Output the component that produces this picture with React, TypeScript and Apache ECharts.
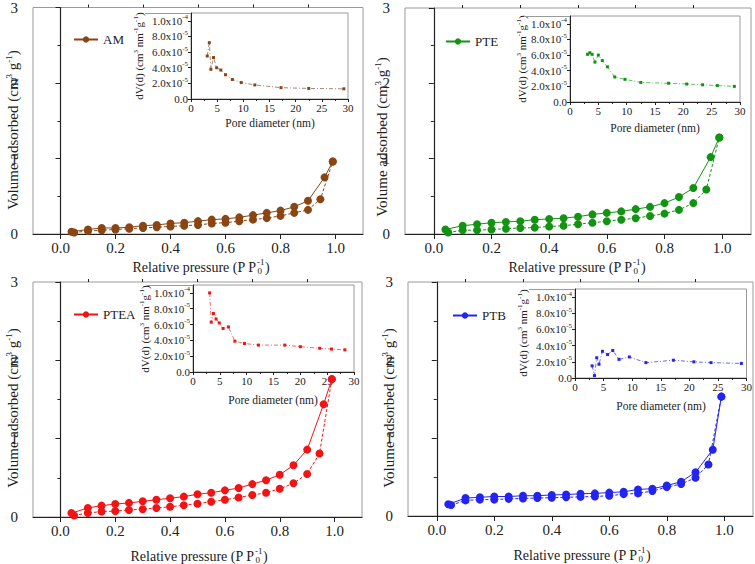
import React, { useEffect, useRef } from "react";
import * as echarts from "echarts";

const FONT = "'Liberation Serif', 'Times New Roman', serif";

// Relative pressure P/P0 for the adsorption (rising) and desorption (falling) branches
const adsP = [0.05, 0.1, 0.15, 0.2, 0.25, 0.3, 0.35, 0.4, 0.45, 0.5, 0.55, 0.6, 0.65, 0.7, 0.75, 0.8, 0.85, 0.9, 0.945, 0.99];
const desP = [0.99, 0.96, 0.9, 0.85, 0.8, 0.75, 0.7, 0.65, 0.6, 0.55, 0.5, 0.45, 0.4, 0.35, 0.3, 0.25, 0.2, 0.15, 0.1, 0.04];

// Volume adsorbed (cm3 g-1)
const amAds = [0.02, 0.04, 0.05, 0.06, 0.07, 0.08, 0.09, 0.10, 0.11, 0.12, 0.14, 0.15, 0.17, 0.19, 0.21, 0.24, 0.28, 0.32, 0.46, 0.96];
const amDes = [0.96, 0.75, 0.44, 0.36, 0.31, 0.28, 0.25, 0.22, 0.20, 0.19, 0.17, 0.15, 0.14, 0.12, 0.11, 0.09, 0.08, 0.08, 0.06, 0.03];
const pteAds = [0.02, 0.05, 0.05, 0.06, 0.07, 0.08, 0.085, 0.10, 0.11, 0.13, 0.15, 0.17, 0.19, 0.21, 0.24, 0.27, 0.32, 0.41, 0.59, 1.28];
const pteDes = [1.28, 1.02, 0.61, 0.49, 0.41, 0.36, 0.33, 0.30, 0.28, 0.26, 0.23, 0.21, 0.20, 0.19, 0.17, 0.16, 0.15, 0.13, 0.11, 0.06];
const pteaAds = [0.02, 0.05, 0.07, 0.075, 0.09, 0.10, 0.115, 0.13, 0.15, 0.17, 0.195, 0.22, 0.25, 0.28, 0.31, 0.36, 0.43, 0.55, 0.81, 1.76];
const pteaDes = [1.76, 1.44, 0.86, 0.66, 0.54, 0.47, 0.42, 0.37, 0.34, 0.31, 0.29, 0.26, 0.24, 0.22, 0.20, 0.18, 0.165, 0.145, 0.115, 0.05];
const ptbAds = [0.14, 0.20, 0.21, 0.21, 0.22, 0.225, 0.23, 0.235, 0.24, 0.245, 0.25, 0.26, 0.28, 0.29, 0.32, 0.37, 0.41, 0.49, 0.66, 1.53];
const ptbDes = [1.53, 0.85, 0.56, 0.44, 0.39, 0.35, 0.34, 0.31, 0.30, 0.29, 0.285, 0.275, 0.27, 0.26, 0.26, 0.25, 0.25, 0.24, 0.23, 0.15];

// Pore size distribution: pore diameter (nm) and dV(d) (cm3 nm-1 g-1)
const amD = [3.1, 3.5, 3.8, 4.3, 4.9, 5.7, 6.6, 7.9, 9.6, 12.2, 17.2, 22.5, 29.2];
const amDv = [5.5e-5, 7.2e-5, 3.8e-5, 5.3e-5, 4.0e-5, 3.7e-5, 3.1e-5, 2.5e-5, 2.1e-5, 1.8e-5, 1.45e-5, 1.35e-5, 1.3e-5];
const pteD = [3.1, 3.5, 3.9, 4.4, 5.0, 5.7, 6.6, 7.9, 9.7, 12.5, 17.4, 20.6, 23.4, 26.0, 29.0];
const pteDv = [6.1e-5, 6.3e-5, 6.1e-5, 5.1e-5, 6.0e-5, 5.3e-5, 4.5e-5, 3.2e-5, 2.9e-5, 2.5e-5, 2.4e-5, 2.3e-5, 2.2e-5, 2.1e-5, 2.0e-5];
const pteaD = [3.1, 3.4, 3.8, 4.3, 4.9, 5.6, 6.6, 7.8, 9.6, 12.2, 17.1, 20.0, 23.6, 25.8, 28.3];
const pteaDv = [10.0e-5, 6.3e-5, 7.4e-5, 6.7e-5, 6.2e-5, 5.5e-5, 5.7e-5, 3.9e-5, 3.6e-5, 3.4e-5, 3.4e-5, 3.2e-5, 3.0e-5, 2.9e-5, 2.8e-5];
const ptbD = [3.0, 3.4, 3.8, 4.2, 4.8, 5.7, 6.6, 7.7, 9.5, 12.4, 17.2, 20.8, 23.8, 29.1];
const ptbDv = [1.5e-5, 0.3e-5, 2.5e-5, 1.7e-5, 3.3e-5, 2.9e-5, 3.4e-5, 2.3e-5, 2.6e-5, 1.9e-5, 2.2e-5, 2.0e-5, 1.9e-5, 1.8e-5];

// Axis ticks
const pTicks = [0, 0.2, 0.4, 0.6, 0.8, 1.0];
const pMinorTicks = [0.1, 0.3, 0.5, 0.7, 0.9];
const dvTicks = [0, 2e-5, 4e-5, 6e-5, 8e-5, 1e-4];

const samples = [
  { name: "AM", color: "#8a4513", insetLine: "#9a8a80", ads: amAds, des: amDes, d: amD, dv: amDv },
  { name: "PTE", color: "#129412", insetLine: "#5cbf5c", ads: pteAds, des: pteDes, d: pteD, dv: pteDv },
  { name: "PTEA", color: "#f21414", insetLine: "#f56a6a", ads: pteaAds, des: pteaDes, d: pteaD, dv: pteaDv },
  { name: "PTB", color: "#2424f0", insetLine: "#6a6af5", ads: ptbAds, des: ptbDes, d: ptbD, dv: ptbDv },
];

// Panel geometry (px)
const mainBoxes = [
  { left: 33, top: 5, width: 330, height: 229 },
  { left: 405, top: 8, width: 346, height: 226 },
  { left: 33, top: 282, width: 329, height: 235 },
  { left: 408, top: 282, width: 345, height: 234 },
];
const insetBoxes = [
  { left: 191, top: 13, width: 157, height: 86 },
  { left: 570, top: 16, width: 170, height: 86 },
  { left: 193, top: 285, width: 161, height: 87 },
  { left: 575, top: 289, width: 172, height: 89 },
];
const legendPos = [
  { left: 68, top: 28 },
  { left: 440, top: 30 },
  { left: 68, top: 303 },
  { left: 447, top: 304 },
];
// x-title start, y-title centre
const xTitlePos = [
  { x: 132, y: 267 },
  { x: 508, y: 267 },
  { x: 130, y: 556 },
  { x: 513, y: 555 },
];
const yTitlePos = [
  { x: 13, y: 130 },
  { x: 382, y: 137 },
  { x: 13, y: 408 },
  { x: 389, y: 408 },
];
const insetXTitle = [
  { x: 270, y: 123 },
  { x: 655, y: 128 },
  { x: 273, y: 400 },
  { x: 661, y: 406 },
];
const insetYTitle = [
  { x: 139, y: 56 },
  { x: 522, y: 59 },
  { x: 145, y: 329 },
  { x: 523, y: 333 },
];

const INK = "#222";
const FRAME = "#9a9a9a";

const tok = (size: number, extra: any = {}) => ({ fontFamily: FONT, fontSize: size, color: INK, fill: INK, ...extra });

function dvLabel(v: number) {
  const k = Math.round(v * 1e5);
  if (k === 0) return "{b|0.0}";
  if (k === 10) return "{b|1.0x10}{s|-4}";
  return `{b|${k}.0x10}{s|-5}`;
}

const dvRich = { b: tok(11), s: tok(7, { padding: [0, 0, 7, 0] }) };

function buildOption() {
  const grid: any[] = [];
  const xAxis: any[] = [];
  const yAxis: any[] = [];
  const series: any[] = [];
  const legend: any[] = [];
  const graphic: any[] = [];

  samples.forEach((s, i) => {
    grid.push({ ...mainBoxes[i], show: true, borderColor: FRAME, borderWidth: 1, containLabel: false });
    grid.push({ ...insetBoxes[i], show: true, borderColor: FRAME, borderWidth: 1, containLabel: false });
  });

  samples.forEach((s, i) => {
    const ins = insetBoxes[i];
    const gm = i * 2;
    const gi = i * 2 + 1;
    // isotherm axes
    xAxis.push({
      type: "value", gridIndex: gm, min: -0.1, max: 1.1,
      axisLine: { show: true, lineStyle: { color: INK, width: 1.2 } },
      axisTick: { show: true, length: 5, customValues: pTicks, lineStyle: { color: INK } },
      axisLabel: {
        show: true, customValues: pTicks, margin: 6,
        formatter: (v: number) => v.toFixed(1),
        fontFamily: FONT, fontSize: 15, color: INK,
      },
      splitLine: { show: false },
    });
    // pore size axes
    xAxis.push({
      type: "value", gridIndex: gi, min: 0, max: 30, interval: 5,
      axisLine: { show: true, lineStyle: { color: INK, width: 1 } },
      axisTick: { show: true, length: 3, lineStyle: { color: INK } },
      minorTick: { show: true, splitNumber: 2, length: 2, lineStyle: { color: INK } },
      axisLabel: { show: true, margin: 3, fontFamily: FONT, fontSize: 11, color: INK },
      splitLine: { show: false },
    });
    yAxis.push({
      type: "value", gridIndex: gm, min: 0, max: 3, interval: 1,
      axisLine: { show: true, lineStyle: { color: INK, width: 1.2 } },
      axisTick: { show: true, length: 5, lineStyle: { color: INK } },
      minorTick: { show: true, splitNumber: 2, length: 3, lineStyle: { color: INK } },
      axisLabel: { show: true, margin: 15, fontFamily: FONT, fontSize: 15, color: INK },
      splitLine: { show: false },
    });
    yAxis.push({
      type: "value", gridIndex: gi, min: 0, max: 1.1e-4,
      axisLine: { show: true, lineStyle: { color: INK, width: 1 } },
      axisTick: { show: true, length: 3, customValues: dvTicks, lineStyle: { color: INK } },
      axisLabel: { show: true, customValues: dvTicks, margin: 3, formatter: dvLabel, rich: dvRich },
      splitLine: { show: false },
    });

    // desorption branch (solid) first so the legend shows a solid line
    series.push({
      type: "line", name: s.name, xAxisIndex: gm, yAxisIndex: gm,
      data: desP.map((p, k) => [p, s.des[k]]),
      symbol: "circle", symbolSize: 8,
      itemStyle: { color: s.color },
      lineStyle: { color: s.color, width: 1 },
      z: 3,
    });
    series.push({
      type: "line", name: s.name, xAxisIndex: gm, yAxisIndex: gm,
      data: adsP.map((p, k) => [p, s.ads[k]]),
      symbol: "circle", symbolSize: 8,
      itemStyle: { color: s.color },
      lineStyle: { color: s.color, width: 1, type: [3, 2] },
      z: 3,
    });
    series.push({
      type: "line", name: s.name + " PSD", xAxisIndex: gi, yAxisIndex: gi,
      data: s.d.map((d, k) => [d, s.dv[k]]),
      symbol: "rect", symbolSize: 3,
      itemStyle: { color: s.color },
      lineStyle: { color: s.insetLine, width: 1, type: [4, 2, 1, 2] },
      z: 2,
    });

    legend.push({
      data: [s.name], ...legendPos[i], orient: "horizontal",
      itemWidth: 24, itemHeight: 8, selectedMode: false,
      textStyle: { fontFamily: FONT, fontSize: 13, color: INK },
    });

    // x title with stacked P0^-1
    const xt = xTitlePos[i];
    const anchor = xt.x + 124;
    const base = { fontFamily: FONT, fill: INK };
    graphic.push(
      { type: "text", x: anchor, y: xt.y, style: { ...base, text: "Relative pressure (P P", fontSize: 14, align: "right", verticalAlign: "middle" } },
      { type: "text", x: anchor + 1, y: xt.y - 5, style: { ...base, text: "-1", fontSize: 9, align: "left", verticalAlign: "middle" } },
      { type: "text", x: anchor + 1.5, y: xt.y + 4, style: { ...base, text: "0", fontSize: 9, align: "left", verticalAlign: "middle" } },
      { type: "text", x: anchor + 9, y: xt.y, style: { ...base, text: ")", fontSize: 14, align: "left", verticalAlign: "middle" } },
    );
    const yt = yTitlePos[i];
    graphic.push({
      type: "text", x: yt.x, y: yt.y, rotation: Math.PI / 2,
      style: {
        text: "{a|Volume adsorbed (cm}{s|3}{a| g}{s|-1}{a|)}",
        align: "center", verticalAlign: "middle",
        rich: { a: tok(15), s: tok(9, { padding: [0, 0, 9, 0] }) },
      },
    });
    const ixt = insetXTitle[i];
    graphic.push({
      type: "text", x: ixt.x, y: ixt.y,
      style: { ...base, text: "Pore diameter (nm)", fontSize: 11.5, align: "center", verticalAlign: "middle" },
    });
    const iyt = insetYTitle[i];
    graphic.push({
      type: "text", x: iyt.x, y: iyt.y, rotation: Math.PI / 2,
      style: {
        text: "{a|dV(d) (cm}{s|3}{a| nm}{s|-1}{a|g}{s|-1}{a|)}",
        align: "center", verticalAlign: "middle",
        rich: { a: tok(11), s: tok(7, { padding: [0, 0, 6, 0] }) },
      },
    });
    // inset frame: top edge runs across the label area
    graphic.push({
      type: "line", silent: true,
      shape: { x1: ins.left - 46, y1: ins.top + 0.5, x2: ins.left, y2: ins.top + 0.5 },
      style: { stroke: FRAME, lineWidth: 1 },
    });
  });

  // minor ticks on the pressure axes
  samples.forEach((s, i) => {
    xAxis.push({
      type: "value", gridIndex: i * 2, min: -0.1, max: 1.1,
      axisLine: { show: false },
      axisTick: { show: true, length: 3, customValues: pMinorTicks, lineStyle: { color: INK } },
      axisLabel: { show: false },
      splitLine: { show: false },
    });
  });

  return {
    animation: false,
    backgroundColor: "#ffffff",
    textStyle: { fontFamily: FONT },
    grid, xAxis, yAxis, series, legend, graphic,
  };
}

export default function App() {
  const ref = useRef<HTMLDivElement>(null);
  useEffect(() => {
    if (!ref.current) return;
    const chart = echarts.init(ref.current, null, { renderer: "svg" });
    chart.setOption(buildOption() as any);
    return () => chart.dispose();
  }, []);
  return (
    <div
      ref={ref}
      style={{ position: "absolute", left: 0, top: 0, width: 755, height: 564 }}
    />
  );
}
